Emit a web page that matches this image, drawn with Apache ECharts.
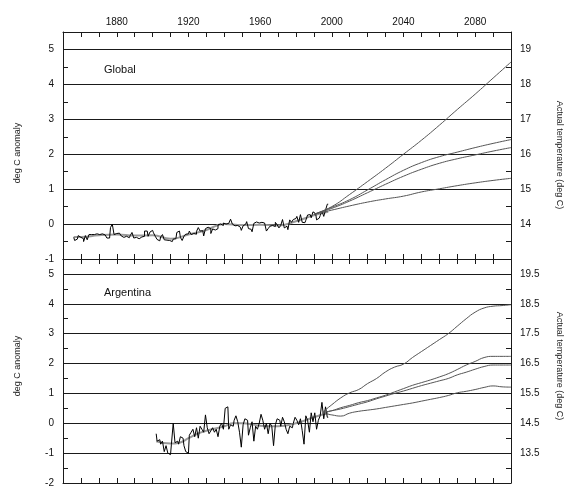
<!DOCTYPE html>
<html><head><meta charset="utf-8">
<script src="https://cdn.jsdelivr.net/npm/echarts@6/dist/echarts.min.js"></script>
<style>html,body{margin:0;padding:0;background:#fff}#c{width:570px;height:488px}</style>
</head><body><div id="c"></div>
<script>
// ---------- DATA ----------
const globalObsStart = 1856;
const globalObs = [-0.38,-0.47,-0.43,-0.33,-0.38,-0.42,-0.50,-0.33,-0.45,-0.30,-0.30,-0.30,-0.29,-0.28,-0.30,-0.33,-0.28,-0.31,-0.36,-0.40,-0.40,-0.10,0.00,-0.30,-0.27,-0.26,-0.29,-0.34,-0.38,-0.35,-0.33,-0.39,-0.33,-0.24,-0.40,-0.38,-0.42,-0.40,-0.37,-0.35,-0.20,-0.20,-0.35,-0.23,-0.18,-0.25,-0.35,-0.44,-0.48,-0.37,-0.30,-0.45,-0.46,-0.47,-0.46,-0.50,-0.43,-0.42,-0.24,-0.20,-0.38,-0.47,-0.35,-0.29,-0.28,-0.20,-0.30,-0.27,-0.29,-0.21,-0.10,-0.20,-0.19,-0.34,-0.13,-0.09,-0.13,-0.27,-0.14,-0.17,-0.13,-0.02,0.00,-0.04,0.03,0.00,0.02,0.00,0.14,0.00,-0.05,-0.04,-0.07,-0.09,-0.18,-0.05,0.00,0.07,-0.13,-0.15,-0.22,0.02,0.06,0.03,-0.02,0.05,0.03,0.05,-0.20,-0.13,-0.06,-0.04,-0.07,0.05,-0.02,-0.11,-0.04,0.13,-0.11,-0.06,-0.16,0.12,0.05,0.13,0.16,0.22,0.05,0.27,0.05,0.04,0.11,0.26,0.27,0.18,0.35,0.30,0.12,0.17,0.24,0.37,0.22,0.40,0.57];
const globalSmoothYears = [1856,1860,1870,1880,1890,1900,1910,1920,1930,1940,1950,1960,1970,1980,1990,1998];
const globalSmooth = [-0.37,-0.37,-0.32,-0.30,-0.33,-0.32,-0.42,-0.30,-0.17,0.00,-0.03,-0.02,-0.04,0.08,0.25,0.35];
const globalProjYears = [1990,2000,2010,2020,2030,2040,2050,2060,2070,2080,2090,2100];
const globalProjA = [0.28,0.50,0.85,1.22,1.60,2.00,2.40,2.83,3.28,3.72,4.18,4.64];
const globalProjB = [0.28,0.48,0.70,0.98,1.27,1.54,1.76,1.93,2.06,2.19,2.31,2.42];
const globalProjC = [0.28,0.45,0.66,0.90,1.14,1.37,1.57,1.74,1.87,1.98,2.09,2.19];
const globalProjD = [0.28,0.40,0.52,0.63,0.72,0.80,0.92,1.01,1.10,1.18,1.25,1.31];

const argObsStart = 1902;
const argObs = [-0.35,-0.60,-0.55,-0.70,-0.60,-0.95,-0.75,-1.00,-1.05,-0.70,0.00,-0.65,-0.60,-0.70,-0.45,-0.50,-0.75,-0.95,-1.00,-0.40,-0.30,-0.20,-0.45,-0.15,-0.50,-0.10,-0.20,-0.30,0.28,-0.15,-0.35,-0.25,-0.15,-0.30,-0.20,-0.45,-0.10,0.00,-0.20,0.50,0.55,-0.20,-0.05,-0.10,0.10,0.25,0.05,-0.30,-0.80,-0.05,0.15,0.10,-0.40,-0.15,0.05,-0.60,-0.10,-0.20,0.00,0.30,0.10,-0.20,0.00,-0.35,0.00,-0.10,-0.75,-0.05,0.15,0.10,-0.10,0.20,0.05,-0.20,-0.35,-0.10,-0.15,0.00,0.20,0.10,-0.05,0.15,-0.25,-0.70,0.25,0.10,-0.30,0.35,0.05,0.35,-0.20,0.10,0.25,0.70,0.15,0.55,0.20];
const argSmoothYears = [1902,1910,1915,1920,1925,1930,1940,1945,1950,1960,1970,1980,1990,1998];
const argSmooth = [-0.60,-0.68,-0.65,-0.50,-0.35,-0.25,-0.10,0.00,0.00,-0.08,-0.10,0.00,0.20,0.35];
const argProjYears = [1995,2000,2005,2010,2015,2020,2025,2030,2035,2040,2045,2050,2055,2060,2065,2070,2075,2080,2085,2090,2095,2100];
const argProjA = [0.38,0.62,0.85,1.02,1.13,1.33,1.50,1.72,1.88,1.98,2.20,2.40,2.60,2.80,3.00,3.25,3.50,3.72,3.86,3.92,3.94,3.97];
const argProjB = [0.36,0.42,0.52,0.60,0.69,0.76,0.85,0.94,1.05,1.16,1.27,1.36,1.45,1.55,1.66,1.80,1.95,2.07,2.20,2.24,2.24,2.24];
const argProjC = [0.36,0.42,0.48,0.56,0.64,0.72,0.82,0.91,1.00,1.08,1.17,1.26,1.34,1.42,1.50,1.62,1.71,1.81,1.90,1.95,1.95,1.95];
const argProjD = [0.33,0.28,0.24,0.34,0.40,0.44,0.48,0.53,0.58,0.63,0.68,0.74,0.80,0.86,0.93,1.02,1.07,1.13,1.20,1.25,1.22,1.21];

const xLabelYears = [1880,1920,1960,2000,2040,2080];
const panelTitles = ['Global','Argentina'];
const leftName = 'deg C anomaly';
const rightName = 'Actual temperature (deg C)';

// ---------- BUILD ----------
const pairs = (xs, ys) => ys.map((v, i) => [xs[i], v]);
const seq = (start, ys) => ys.map((v, i) => [start + i, v]);
const isInt = v => Math.abs(v - Math.round(v)) < 1e-6;
const isHalf = v => Math.abs(v - Math.floor(v) - 0.5) < 1e-6;

const FONT = 'Liberation Sans, Arial, sans-serif';
const lineCol = '#1a1a1a';
const labelStyle = {color: '#111', fontSize: 10, fontFamily: FONT};

function xAx(grid, pos, showLabels) {
  return {
    type: 'value', gridIndex: grid, position: pos, min: 1850, max: 2100, interval: 10,
    axisLine: {show: true, onZero: false, lineStyle: {color: lineCol, width: 1}},
    axisTick: {show: true, inside: true, length: 5, lineStyle: {color: lineCol}},
    axisLabel: Object.assign({show: showLabels, margin: 5,
      formatter: v => xLabelYears.includes(Math.round(v)) ? String(Math.round(v)) : ''}, labelStyle),
    splitLine: {show: false}
  };
}
function yAx(grid, pos, min, max, fmt, margin) {
  return {
    type: 'value', gridIndex: grid, position: pos, min: min, max: max, interval: 0.5,
    axisLine: {show: true, onZero: false, lineStyle: {color: lineCol, width: 1}},
    axisTick: {show: true, inside: true, length: 5, lineStyle: {color: lineCol}},
    axisLabel: Object.assign({show: true, margin: margin, formatter: fmt}, labelStyle),
    splitLine: {show: false}
  };
}
function gridAx(grid, min, max) {
  return {
    type: 'value', gridIndex: grid, position: 'left', min: min, max: max, interval: 1,
    axisLine: {show: false}, axisTick: {show: false}, axisLabel: {show: false},
    splitLine: {show: true, lineStyle: {color: lineCol, width: 1}}
  };
}

const obsStyle = {type: 'line', step: 'middle', showSymbol: false, symbol: 'none',
  lineStyle: {color: '#000', width: 1}, z: 5};
const smoothStyle = {type: 'line', smooth: true, showSymbol: false, symbol: 'none',
  lineStyle: {color: '#9a9a9a', width: 2}, z: 4};
const projStyle = {type: 'line', smooth: true, showSymbol: false, symbol: 'none',
  lineStyle: {color: '#555', width: 1}, z: 6};

function mk(base, xi, yi, data) {
  return Object.assign({}, base, {xAxisIndex: xi, yAxisIndex: yi, data: data});
}

const series = [
  mk(smoothStyle, 0, 0, pairs(globalSmoothYears, globalSmooth)),
  mk(obsStyle, 0, 0, seq(globalObsStart, globalObs)),
  mk(projStyle, 0, 0, pairs(globalProjYears, globalProjA)),
  mk(projStyle, 0, 0, pairs(globalProjYears, globalProjB)),
  mk(projStyle, 0, 0, pairs(globalProjYears, globalProjC)),
  mk(projStyle, 0, 0, pairs(globalProjYears, globalProjD)),
  mk(smoothStyle, 2, 3, pairs(argSmoothYears, argSmooth)),
  mk(obsStyle, 2, 3, seq(argObsStart, argObs)),
  mk(projStyle, 2, 3, pairs(argProjYears, argProjA)),
  mk(projStyle, 2, 3, pairs(argProjYears, argProjB)),
  mk(projStyle, 2, 3, pairs(argProjYears, argProjC)),
  mk(projStyle, 2, 3, pairs(argProjYears, argProjD))
];

const nameStyle = {fill: '#222', fontSize: 9, fontFamily: FONT, align: 'center', verticalAlign: 'middle'};

const option = {
  animation: false,
  backgroundColor: '#fff',
  title: [
    {text: panelTitles[0], left: 99, top: 59, textStyle: {fontSize: 11, fontWeight: 'normal', color: '#111', fontFamily: FONT}},
    {text: panelTitles[1], left: 99, top: 282, textStyle: {fontSize: 11, fontWeight: 'normal', color: '#111', fontFamily: FONT}}
  ],
  grid: [
    {left: 63, right: 59, top: 32, height: 227},
    {left: 63, right: 59, top: 259, height: 228}
  ],
  xAxis: [xAx(0, 'top', true), xAx(0, 'bottom', false), xAx(1, 'top', false), xAx(1, 'bottom', false)],
  yAxis: [
    yAx(0, 'left', -1, 5.5, v => isInt(v) && v < 5.2 ? String(Math.round(v)) : '', 9),
    yAx(0, 'right', 13, 19.5, v => isInt(v) && v > 13.5 && v < 19.2 ? String(Math.round(v)) : '', 9),
    gridAx(0, -1, 5.5),
    yAx(1, 'left', -2, 5.5, v => isInt(v) && v < 5.2 ? String(Math.round(v)) : '', 9),
    yAx(1, 'right', 12.5, 20, v => isHalf(v) && v > 13 && v < 19.8 ? v.toFixed(1) : '', 9),
    gridAx(1, -2, 5.5)
  ],
  graphic: [
    {type: 'text', x: 18, y: 153, rotation: Math.PI / 2, style: Object.assign({text: leftName}, nameStyle)},
    {type: 'text', x: 18, y: 366, rotation: Math.PI / 2, style: Object.assign({text: leftName}, nameStyle)},
    {type: 'text', x: 559, y: 155, rotation: -Math.PI / 2, style: Object.assign({text: rightName}, nameStyle)},
    {type: 'text', x: 559, y: 366, rotation: -Math.PI / 2, style: Object.assign({text: rightName}, nameStyle)}
  ],
  series: series
};

const chart = echarts.init(document.getElementById('c'), null, {renderer: 'canvas'});
chart.setOption(option);
</script>
</body></html>
